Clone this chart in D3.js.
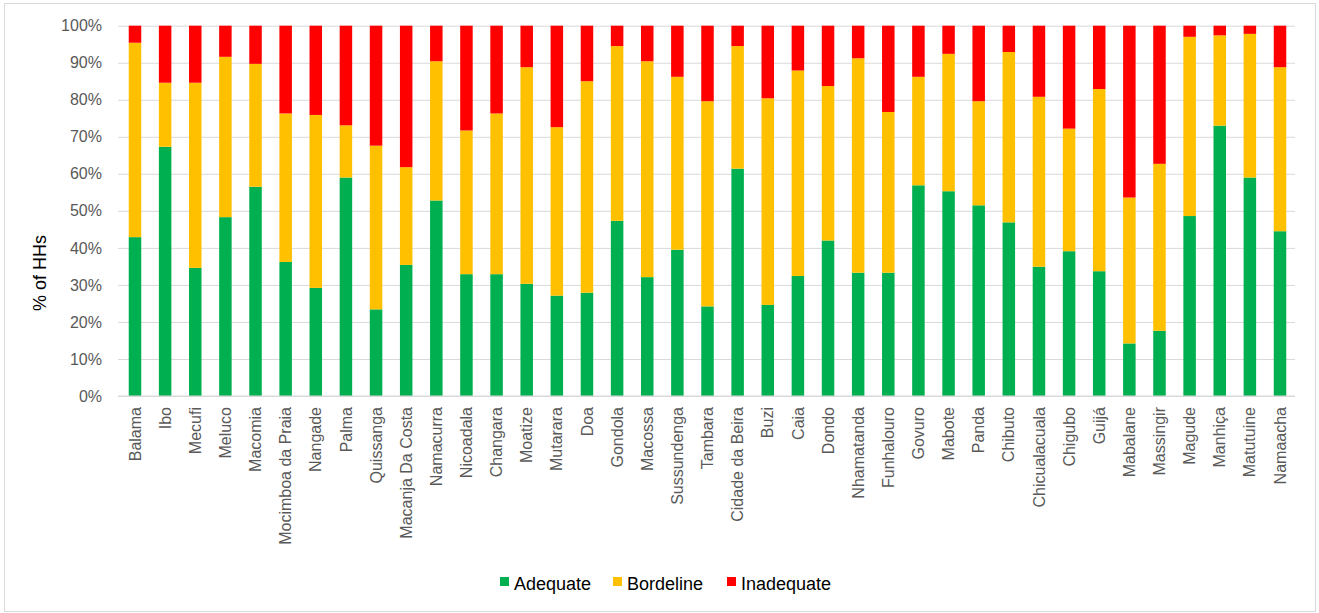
<!DOCTYPE html>
<html>
<head>
<meta charset="utf-8">
<script src="https://cdn.jsdelivr.net/npm/d3@7"></script>
<style>
  body { margin: 0; background: #fff; }
  svg { font-family: "Liberation Sans", Arial, sans-serif; }
</style>
</head>
<body>
<div id="chart"></div>
<script>
// Districts
const districts = [
  "Balama", "Ibo", "Mecufi", "Meluco", "Macomia", "Mocimboa da Praia", "Nangade",
  "Palma", "Quissanga", "Macanja Da Costa", "Namacurra", "Nicoadala", "Changara",
  "Moatize", "Mutarara", "Doa", "Gondola", "Macossa", "Sussundenga", "Tambara",
  "Cidade da Beira", "Buzi", "Caia", "Dondo", "Nhamatanda", "Funhalouro", "Govuro",
  "Mabote", "Panda", "Chibuto", "Chicualacuala", "Chigubo", "Guijá", "Mabalane",
  "Massingir", "Magude", "Manhiça", "Matutuine", "Namaacha",
];
// % of HHs per group
const adequate = [
  42.9, 67.3, 34.6, 48.3, 56.5, 36.2, 29.2, 59.0, 23.4, 35.4, 52.8, 32.9, 32.9,
  30.3, 27.1, 27.9, 47.3, 32.1, 39.5, 24.2, 61.4, 24.6, 32.4, 42.0, 33.3, 33.3,
  56.9, 55.3, 51.5, 46.9, 34.9, 39.1, 33.7, 14.2, 17.6, 48.6, 73.0, 59.0, 44.5,
];
const borderline = [
  52.5, 17.3, 50.0, 43.3, 33.2, 40.1, 46.7, 14.1, 44.2, 26.4, 37.6, 38.8, 43.4,
  58.5, 45.5, 57.1, 47.2, 58.3, 46.7, 55.4, 33.1, 55.8, 55.5, 41.7, 57.9, 43.4,
  29.3, 37.1, 28.1, 46.0, 45.9, 33.1, 49.2, 39.4, 45.1, 48.4, 24.4, 38.8, 44.3,
];
const inadequate = [
  4.6, 15.4, 15.4, 8.4, 10.3, 23.7, 24.1, 26.9, 32.4, 38.2, 9.6, 28.3, 23.7,
  11.2, 27.4, 15.0, 5.5, 9.6, 13.8, 20.4, 5.5, 19.6, 12.1, 16.3, 8.8, 23.3,
  13.8, 7.6, 20.4, 7.1, 19.2, 27.8, 17.1, 46.4, 37.3, 3.0, 2.6, 2.2, 11.2,
];
const yTicks = [0, 10, 20, 30, 40, 50, 60, 70, 80, 90, 100];

const series = [
  { key: "Adequate", values: adequate, color: "#00B050" },
  { key: "Bordeline", values: borderline, color: "#FFC000" },
  { key: "Inadequate", values: inadequate, color: "#FF0000" },
];

const width = 1319;
const height = 613;
const margin = { left: 120, right: 24, top: 25.7, bottom: 217 };

const svg = d3.select("#chart")
  .append("svg")
  .attr("width", width)
  .attr("height", height);

// chart frame
svg.append("rect")
  .attr("x", 4.5).attr("y", 3.5)
  .attr("width", 1311).attr("height", 608)
  .attr("fill", "#fff")
  .attr("stroke", "#d9d9d9");

const rows = districts.map((d, i) => {
  const row = { district: d };
  series.forEach((s) => (row[s.key] = s.values[i]));
  return row;
});

const xScale = d3.scaleBand()
  .domain(districts)
  .range([margin.left, width - margin.right])
  .paddingInner(0.585)
  .paddingOuter(0.29);

const yScale = d3.scaleLinear()
  .domain([0, 100])
  .range([height - margin.bottom, margin.top]);

// grid
const grid = svg.append("g")
  .attr("transform", `translate(${margin.left - 2}, 0)`)
  .call(d3.axisLeft(yScale).tickValues(yTicks).tickSize(-(width - margin.left - margin.right + 2)).tickFormat(""));
grid.select(".domain").remove();
grid.selectAll("line").attr("stroke", "#d9d9d9").attr("stroke-width", 1);

// y labels
const yAxis = svg.append("g")
  .attr("transform", `translate(${margin.left - 2}, 0)`)
  .call(d3.axisLeft(yScale).tickValues(yTicks).tickSize(0).tickPadding(16).tickFormat((d) => d + "%"));
yAxis.select(".domain").remove();
yAxis.selectAll("text")
  .attr("fill", "#595959")
  .style("font-size", "16px");

// stacked bars
const stack = d3.stack().keys(series.map((s) => s.key));
svg.append("g")
  .selectAll("g")
  .data(stack(rows))
  .join("g")
  .attr("fill", (d, i) => series[i].color)
  .selectAll("rect")
  .data((d) => d)
  .join("rect")
  .attr("x", (d) => xScale(d.data.district))
  .attr("width", xScale.bandwidth())
  .attr("y", (d) => yScale(d[1]))
  .attr("height", (d) => yScale(d[0]) - yScale(d[1]));

// x axis
const xAxis = svg.append("g")
  .attr("transform", `translate(0, ${height - margin.bottom})`)
  .call(d3.axisBottom(xScale).tickSize(0).tickPadding(0));
xAxis.select(".domain")
  .attr("d", `M${margin.left - 2},0H${width - margin.right}`)
  .attr("stroke", "#d9d9d9");
xAxis.selectAll("text")
  .attr("fill", "#595959")
  .style("font-size", "16px")
  .attr("text-anchor", "end")
  .attr("transform", "rotate(-90)")
  .attr("x", -11)
  .attr("y", 0)
  .attr("dy", "0.35em");

// y title
svg.append("text")
  .attr("transform", "translate(46, 273) rotate(-90)")
  .attr("text-anchor", "middle")
  .style("font-size", "18px")
  .attr("fill", "#000")
  .text("% of HHs");

// legend
const legendX = [500, 613, 727];
const legend = svg.append("g")
  .selectAll("g")
  .data(series)
  .join("g")
  .attr("transform", (d, i) => `translate(${legendX[i]}, 584)`);
legend.append("rect")
  .attr("x", 0).attr("y", -7)
  .attr("width", 9).attr("height", 9)
  .attr("fill", (d) => d.color);
legend.append("text")
  .attr("x", 14)
  .attr("dy", "0.32em")
  .style("font-size", "18px")
  .attr("fill", "#000")
  .text((d) => d.key);
</script>
</body>
</html>
